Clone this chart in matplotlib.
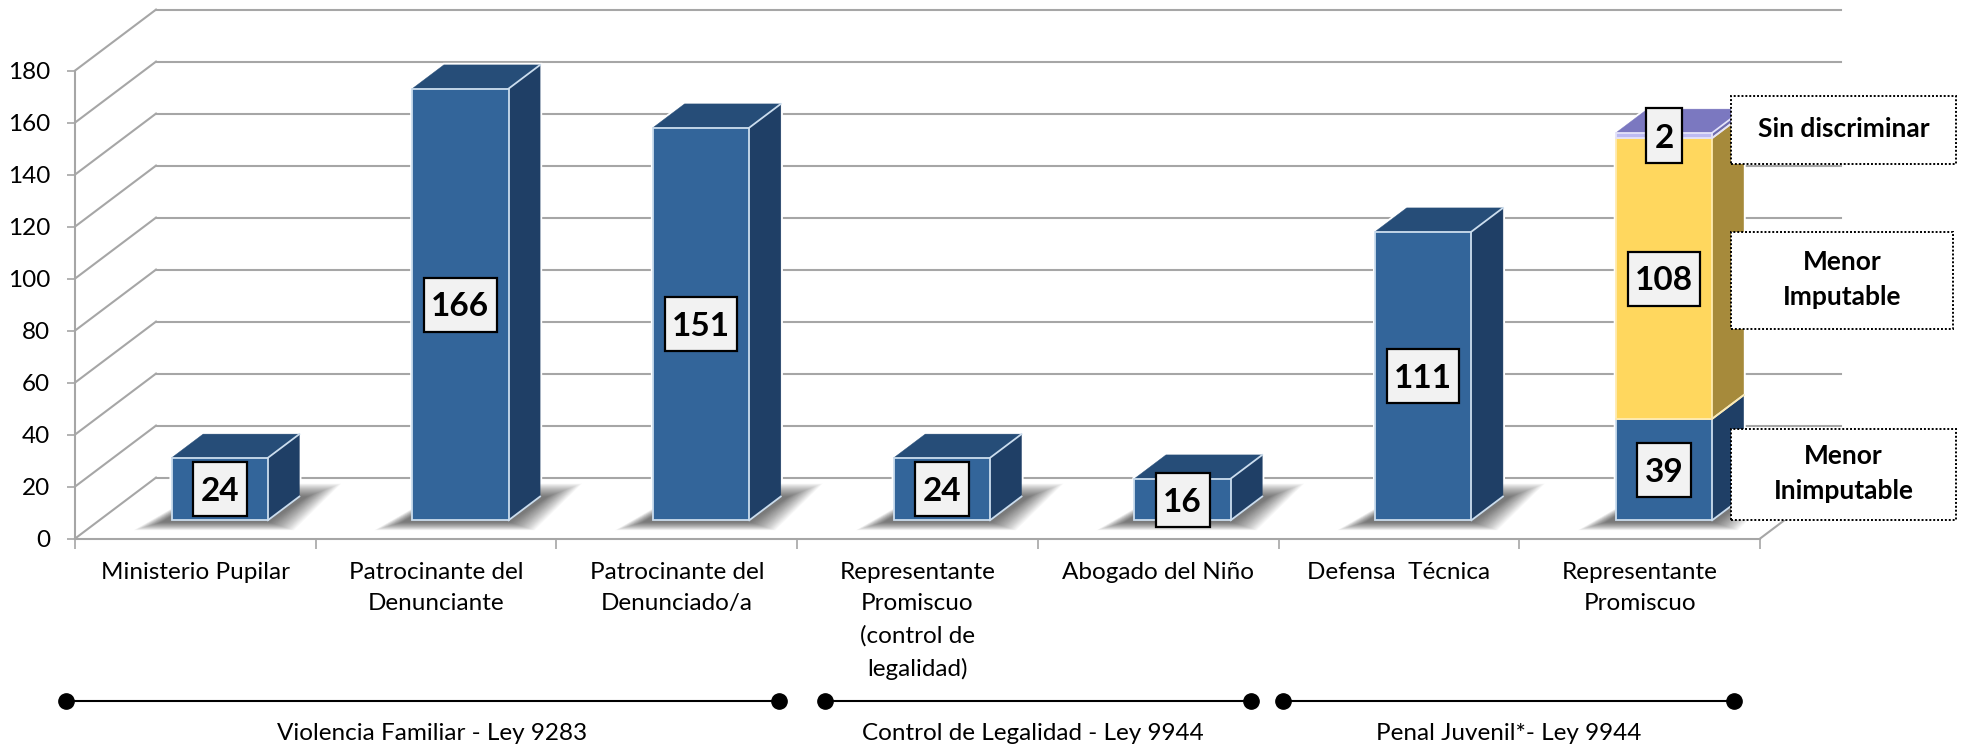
import matplotlib
matplotlib.use('Agg')
import matplotlib.pyplot as plt
from matplotlib.patches import Polygon, Rectangle
from matplotlib.lines import Line2D

W, H = 1963, 748
plt.rcParams['font.family'] = ['Lato', 'DejaVu Sans']

categorias = ['Ministerio Pupilar', 'Patrocinante del\nDenunciante', 'Patrocinante del\nDenunciado/a',
              'Representante\nPromiscuo\n(control de\nlegalidad)', 'Abogado del Niño',
              'Defensa  Técnica', 'Representante\nPromiscuo']
valores = [24, 166, 151, 24, 16, 111, 39]
imputable = [0, 0, 0, 0, 0, 0, 108]
sin_discriminar = [0, 0, 0, 0, 0, 0, 2]
yticks = [0, 20, 40, 60, 80, 100, 120, 140, 160, 180]

grupos = ['Violencia Familiar - Ley 9283', 'Control de Legalidad - Ley 9944', 'Penal Juvenil*- Ley 9944']
grupos_x = [(66, 779), (825, 1251), (1283, 1734)]  # pixels
grupos_tx = [432, 1033, 1509]

leyendas = ['Sin discriminar', 'Menor\nImputable', 'Menor\nInimputable']
leyendas_box = [(1731, 96, 1956, 164), (1731, 232, 1953, 329), (1731, 429, 1956, 520)]  # pixels

# 3D look: depth d=1 is the back wall
PX_CAT = 1685 / 7
PX_VAL = 2.6
DX = 81 / PX_CAT
DV = 61 / PX_VAL
D0, D1 = 0.30, 0.69
BAR0, BAR1 = 0.30, 0.70

AZUL = ('#33659A', '#1F3F66', '#264D78', '#CBDDEE')
AMARILLO = ('#FFD75E', '#A68A3B', '#FFD75E', '#FFEBB0')
VIOLETA = ('#BDBBF2', '#6E6CB0', '#7B78C0', '#E4E3FA')
GRIS = '#A6A6A6'


def p(x, v, d=0):
    return (x + d * DX, v + d * DV)


def fx(px):
    return px / W


def fy(py):
    return 1 - py / H


fig = plt.figure(figsize=(W / 100, H / 100), dpi=100)
ax = fig.add_axes([fx(75), fy(538.6), 1685 / W, 468 / H])
ax.set_xlim(0, 7)
ax.set_ylim(0, 180)
ax.patch.set_alpha(0)
for s in ['top', 'right']:
    ax.spines[s].set_visible(False)
for s in ['left', 'bottom']:
    ax.spines[s].set_color(GRIS)
    ax.spines[s].set_linewidth(1.5)
    ax.spines[s].set_zorder(1)

ax.set_yticks(yticks)
ax.tick_params(axis='y', length=5.8, width=1.2, color=GRIS, pad=12, labelsize=17.5, labelcolor='black')
ax.set_xticks(range(8), labels=[''] * 8)
ax.set_xticks([i + 0.5 for i in range(7)], labels=categorias, minor=True)
ax.tick_params(axis='x', which='major', length=7, width=1.2, color=GRIS)
ax.tick_params(axis='x', which='minor', length=0, pad=16.5, labelsize=17.5)
for lab in ax.get_xticklabels(minor=True):
    lab.set_linespacing(1.62)

# back wall, left wall and floor
for v in yticks:
    ax.plot(*zip(p(0, v), p(0, v, 1)), color=GRIS, lw=1.5, clip_on=False, zorder=1)
    ax.plot(*zip(p(0, v, 1), p(7, v, 1)), color=GRIS, lw=1.5, clip_on=False, zorder=1)
ax.plot(*zip(p(7, 0), p(7, 0, 1)), color=GRIS, lw=1.5, clip_on=False, zorder=1)


def cara(pts, color, edge=None, z=4):
    ax.add_patch(Polygon(pts, closed=True, facecolor=color, edgecolor=edge if edge else color,
                         lw=1.3 if edge else 0.3, clip_on=False, zorder=z, joinstyle='miter'))


def sombra(i):
    x0, x1 = i + BAR0, i + BAR1
    esq = [p(x0, 0, D0), p(x1, 0, D0), p(x1, 0, D1), p(x0, 0, D1)]
    fuera = [(-38, 10), (26, 10), (42, -13), (12, -13)]
    dentro = [(-10, 2), (2, 2), (8, 0), (0, 0)]
    n = 24
    for k in range(n):
        t = k / (n - 1)
        pts = []
        for c, a, b in zip(esq, fuera, dentro):
            ox = a[0] * (1 - t) + b[0] * t
            oy = a[1] * (1 - t) + b[1] * t
            pts.append((c[0] + ox / PX_CAT, c[1] - oy / PX_VAL))
        ax.add_patch(Polygon(pts, closed=True, facecolor='black', edgecolor='none', alpha=0.028,
                             clip_on=False, zorder=3))


def tramo(i, v0, v1, colores):
    x0, x1 = i + BAR0, i + BAR1
    front, side, top, edge = colores
    cara([p(x1, v0, D0), p(x1, v0, D1), p(x1, v1, D1), p(x1, v1, D0)], side, edge=None)
    cara([p(x0, v1, D0), p(x1, v1, D0), p(x1, v1, D1), p(x0, v1, D1)], top, edge=None)
    cara([p(x0, v0, D0), p(x1, v0, D0), p(x1, v1, D0), p(x0, v1, D0)], front, edge=edge, z=5)
    ax.plot(*zip(p(x1, v0, D0), p(x1, v0, D1)), color=edge, lw=1.3, clip_on=False, zorder=6)
    ax.plot(*zip(p(x1, v1, D0), p(x1, v1, D1)), color=edge, lw=1.3, clip_on=False, zorder=6)


def halo(i, total):
    x0, x1 = i + BAR0, i + BAR1
    pts = [p(x0, 0, D0), p(x1, 0, D0), p(x1, 0, D1), p(x1, total, D1), p(x0, total, D1), p(x0, total, D0)]
    ax.add_patch(Polygon(pts, closed=True, facecolor='white', edgecolor='white', lw=3, clip_on=False, zorder=2))


def etiqueta(i, v, txt):
    x, y = p(i + 0.5, v, D0)
    ancho = (17 + 18.5 * len(txt)) / PX_CAT
    alto = 54 / PX_VAL
    ax.add_patch(Rectangle((x - ancho / 2, y - alto / 2), ancho, alto, facecolor='#F2F2F2', edgecolor='black',
                           lw=1.6, clip_on=False, zorder=8))
    ax.text(x, y, txt, ha='center', va='center_baseline', fontsize=24, fontweight='bold', zorder=9)


for i, (a, b, c) in enumerate(zip(valores, imputable, sin_discriminar)):
    total = a + b + c
    sombra(i)
    halo(i, total)
    tramo(i, 0, a, AZUL)
    if b:
        tramo(i, a, a + b, AMARILLO)
    if c:
        tramo(i, a + b, total, VIOLETA)

for i, (a, b, c) in enumerate(zip(valores, imputable, sin_discriminar)):
    etiqueta(i, a / 2, str(a))
    if b:
        etiqueta(i, a + b / 2, str(b))
    if c:
        etiqueta(i, a + b + c / 2, str(c))

# legend boxes on the right
for txt, (l, t, r, b) in zip(leyendas, leyendas_box):
    fig.add_artist(Rectangle((fx(l), fy(b)), (r - l) / W, (b - t) / H, transform=fig.transFigure,
                             facecolor='white', edgecolor='black', lw=1.4, linestyle=(0, (1, 1)), zorder=9))
    fig.text(fx((l + r) / 2), fy((t + b) / 2) + 0.002, txt, ha='center', va='center', fontsize=19,
             fontweight='bold', linespacing=1.55, zorder=10)

# law groups at the bottom
for txt, (a, b), tx in zip(grupos, grupos_x, grupos_tx):
    fig.add_artist(Line2D([fx(a), fx(b)], [fy(701), fy(701)], transform=fig.transFigure, color='black', lw=1.5,
                          marker='o', markersize=11, markerfacecolor='black', markeredgecolor='black'))
    fig.text(fx(tx), fy(734), txt, ha='center', va='center', fontsize=17.5)

fig.savefig('out.png', dpi=100)
